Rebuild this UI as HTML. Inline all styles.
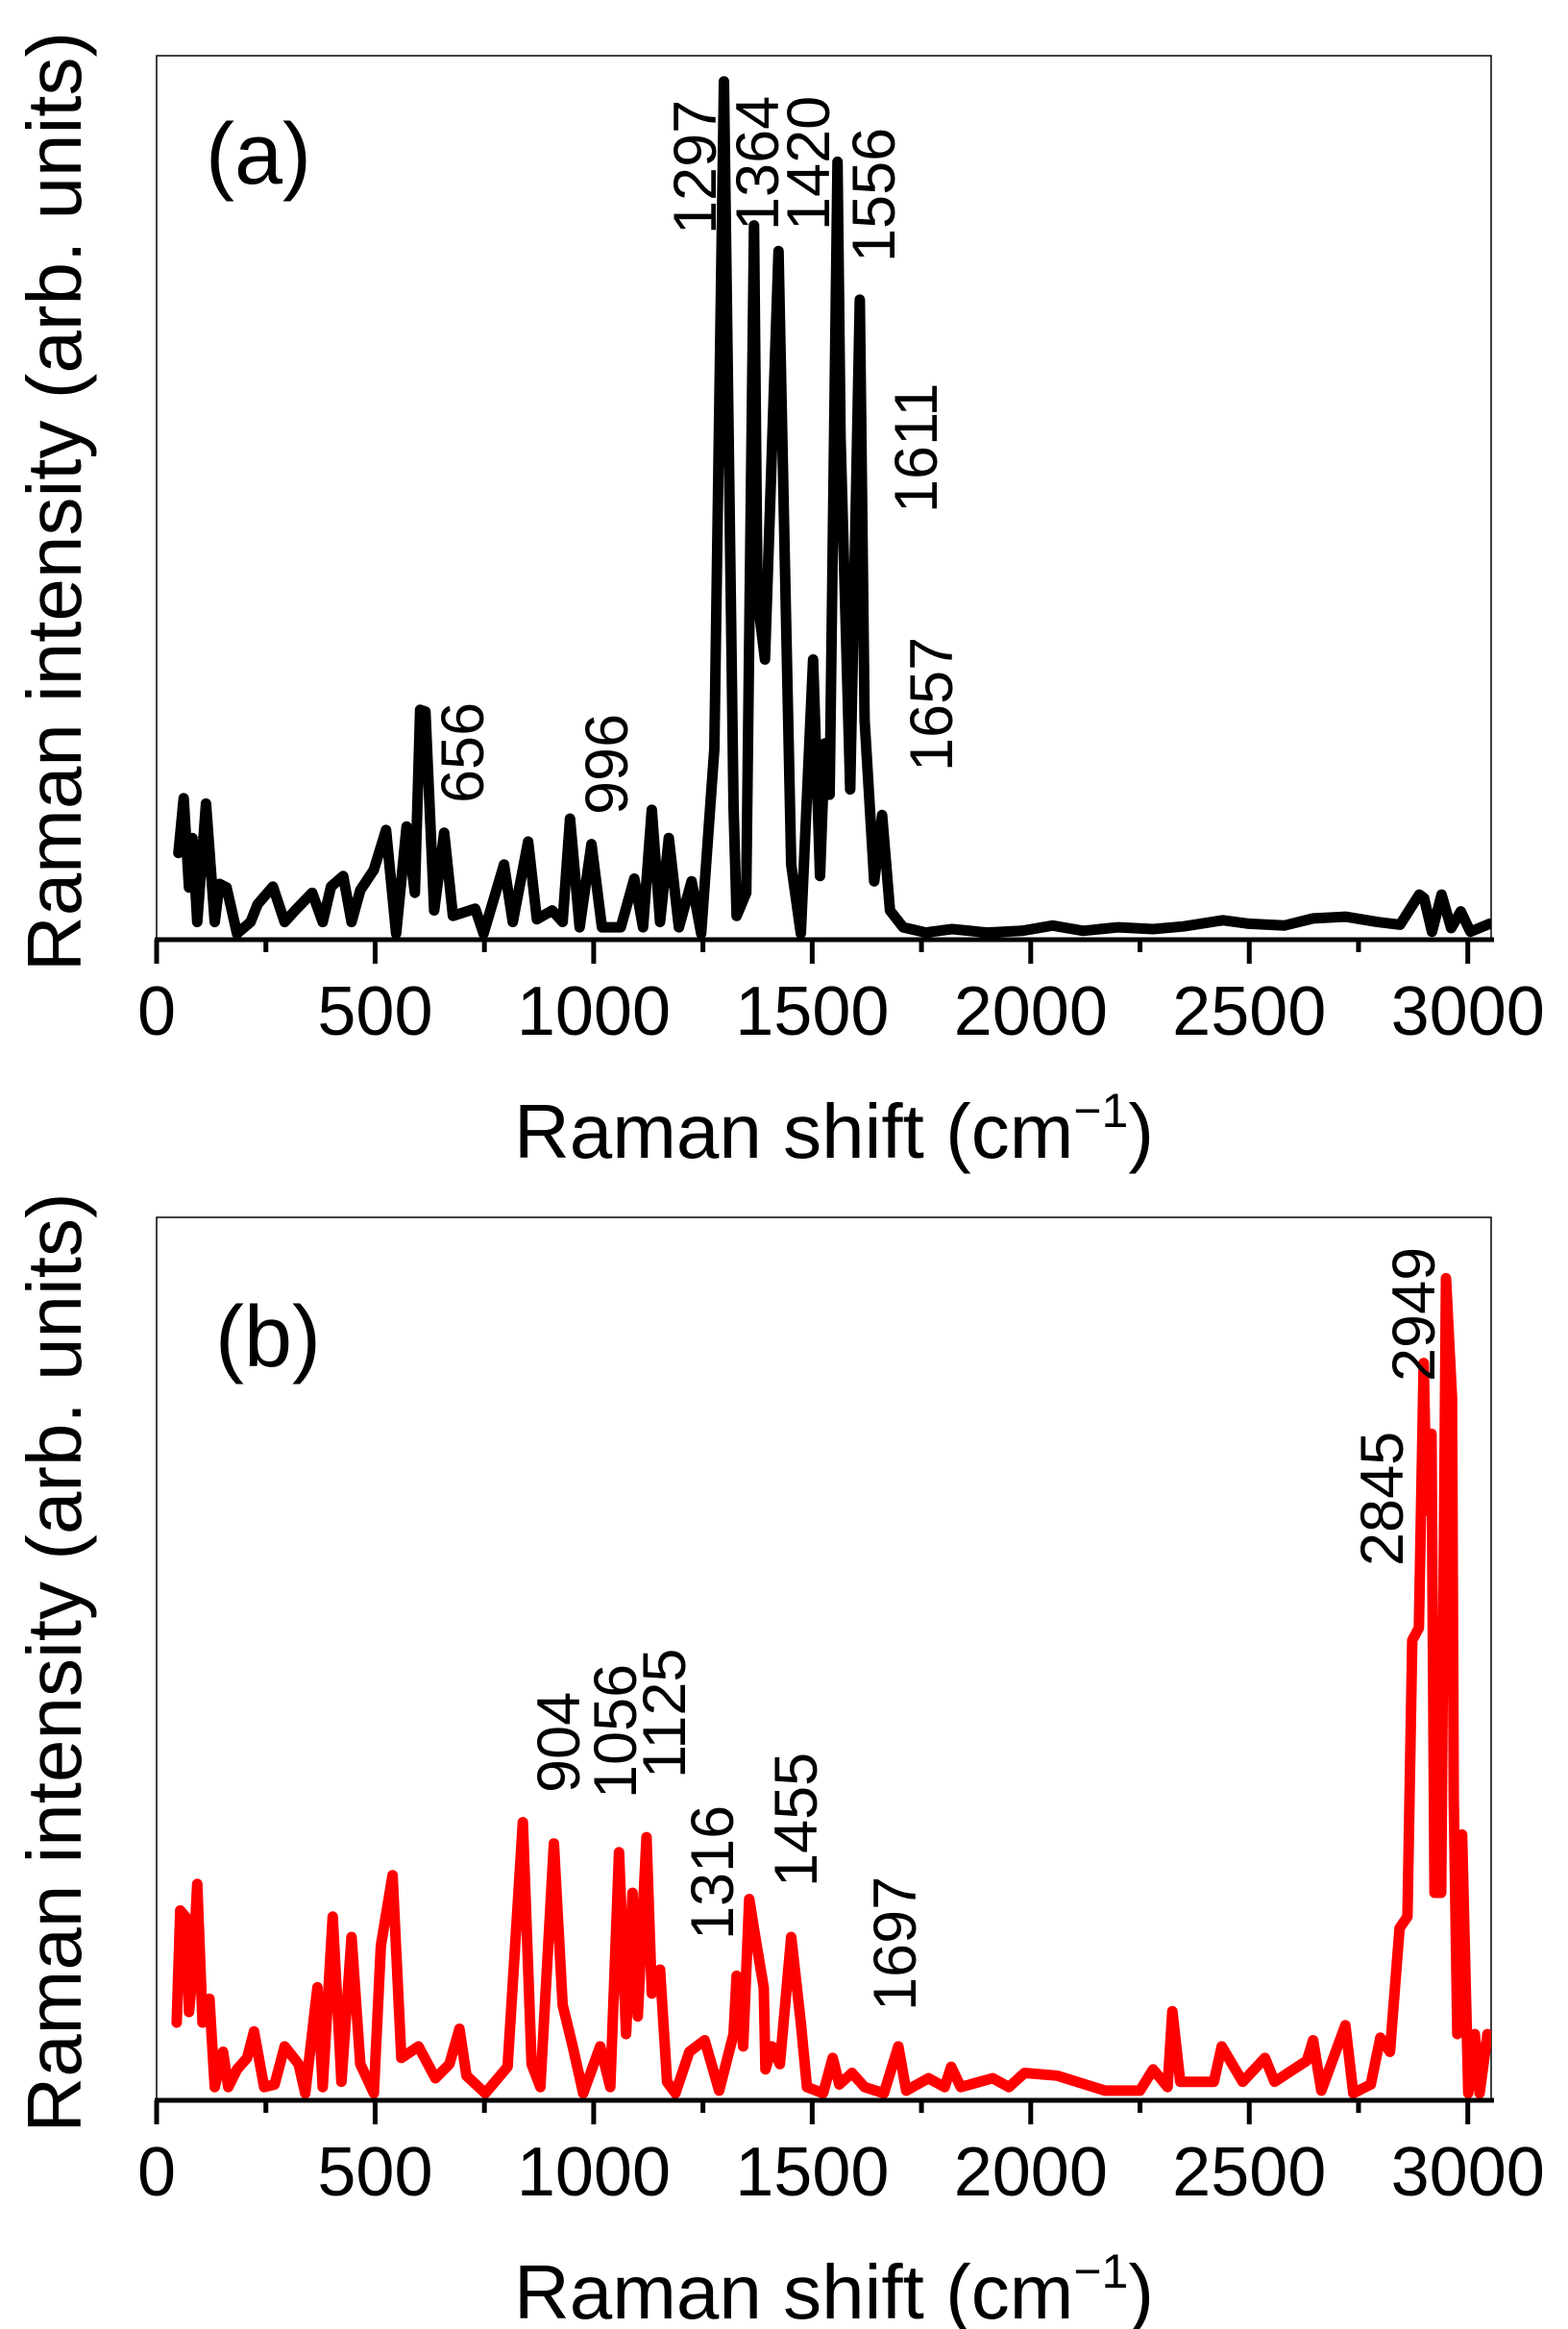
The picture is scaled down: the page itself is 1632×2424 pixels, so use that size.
<!DOCTYPE html>
<html>
<head>
<meta charset="utf-8">
<style>
  html, body { margin: 0; padding: 0; background: #fff; }
  svg { display: block; font-family: "Liberation Sans", Arial, sans-serif; }
</style>
</head>
<body>
<svg id="fig" width="1632" height="2424" viewBox="0 0 1632 2424" xmlns="http://www.w3.org/2000/svg">
  <defs>
    <clipPath id="clipA"><rect x="163" y="58" width="1389" height="924"/></clipPath>
    <clipPath id="clipB"><rect x="163" y="1267" width="1389" height="923"/></clipPath>
  </defs>
  <g id="panelA"></g>
  <g id="panelB"></g>
</svg>
<script>
// ---- data (Raman shift cm^-1, intensity % of plot height) ----
const xTicks = [0, 500, 1000, 1500, 2000, 2500, 3000];
const minorTicks = [250, 750, 1250, 1750, 2250, 2750];

const shiftA = [50,62,74,82,93,113,133,144,160,184,215,231,266,293,317,356,380,399,427,446,466,497,525,548,572,591,603,615,635,658,678,729,748,795,815,850,870,905,929,946,968,995,1019,1062,1093,1113,1133,1152,1172,1195,1224,1246,1276,1298,1320,1327,1349,1367,1375,1392,1423,1437,1452,1474,1502,1518,1529,1540,1558,1565,1587,1609,1620,1642,1660,1678,1708,1760,1820,1900,1980,2050,2120,2200,2280,2350,2440,2499,2580,2646,2720,2793,2845,2889,2900,2918,2940,2962,2984,3006,3050];
const intensityA = [9.8,16,5.9,11.5,2,15.4,2,6.3,5.9,0.7,2,4,6,2,3.3,5.3,2,6,7.2,2,5.6,7.9,12.4,0.7,12.8,5.3,26,25.8,3.3,12.1,2.7,3.5,0.7,8.5,2,11.1,2.3,3.3,2,13.7,1.4,10.8,1.4,1.4,6.9,1.4,14.7,2,11.5,1.4,6.6,0.7,21.6,97.1,15,2.7,5.3,80.8,38.5,31.7,77.9,43.7,8.5,0.7,31.7,7.2,22.2,16.4,88,56.7,17,72.4,24.8,6.6,14.1,3.3,1.4,0.8,1.2,0.8,1.0,1.6,1.0,1.4,1.2,1.5,2.2,1.8,1.6,2.4,2.6,2.0,1.7,5.1,4.7,0.9,5.1,1.3,3.2,0.9,1.8];

const shiftB = [46,54,66,74,83,93,105,121,133,152,164,184,207,223,246,270,293,325,340,368,380,403,423,446,466,497,513,540,560,599,638,670,693,709,752,803,838,858,878,909,929,952,976,1015,1038,1058,1074,1089,1101,1121,1133,1152,1168,1187,1219,1254,1287,1320,1327,1342,1356,1371,1389,1393,1408,1426,1452,1474,1488,1525,1547,1562,1591,1620,1664,1697,1715,1766,1803,1818,1840,1913,1950,1986,2060,2170,2250,2280,2313,2324,2342,2419,2437,2485,2536,2558,2632,2646,2665,2720,2738,2778,2800,2822,2844,2862,2873,2888,2899,2906,2917,2924,2939,2950,2964,2968,2976,2987,3001,3016,3027,3045];
const intensityB = [8.8,21.5,20.8,10,14.8,24.5,8.8,11.5,1.5,5.5,1.5,3.5,4.8,7.8,1.5,1.8,6.1,4.1,0.8,12.8,1.5,20.8,2.1,18.5,4.1,0.8,17.5,25.5,4.8,6.1,2.5,4.1,8.1,2.8,0.8,3.8,31.5,4.1,1.5,29.1,10.8,6.1,0.8,6.1,1.5,28.1,7.5,23.5,9.5,29.8,12.1,14.8,2.1,0.8,5.5,6.8,1.1,7.5,14.1,6.1,22.8,18.1,12.8,3.5,6.1,4.1,18.5,8.8,1.5,0.8,4.8,1.8,3.1,1.5,0.8,6.1,1.1,2.5,1.5,3.8,1.5,2.5,1.5,3.1,2.8,1.1,1.1,3.5,1.5,10.1,2.1,2.1,6.1,2.1,4.8,2.1,4.5,6.8,1.1,8.5,0.8,1.8,7.1,5.5,19.5,20.8,52.1,53.5,83.5,66.8,75.5,23.5,23.5,93.1,79.5,34.1,7.5,30.1,0.8,7.5,0.8,7.5];

const labelsA = ["656","996","1297","1364","1420","1556","1611","1657"];
const labelsB = ["904","1056","1125","1316","1455","1697","2845","2949"];
// ---- layout ----
const NS = "http://www.w3.org/2000/svg";
const X0 = 163, XS = 0.4549, XR = 1552;
const labelPosA = [[503,836],[653,848],[745,244],[810,240],[863,240],[931,273],[975,534],[991,803]];
const labelPosB = [[603,1866],[662,1872],[713,1851],[763,2019],[850,1964],[953,2093],[1460,1630],[1493,1438]];

function xPix(v) { return X0 + v * XS; }
function mk(tag, attrs, parent) {
  const el = document.createElementNS(NS, tag);
  for (const k in attrs) el.setAttribute(k, attrs[k]);
  parent.appendChild(el);
  return el;
}

function drawPanel(g, top, base, xs, ys, color, clipId, tag, labels, labelPos, tagY) {
  const H = base - top;
  const yPix = v => base - v / 100 * H;
  const frame = mk('rect', {x: X0, y: top, width: XR - X0, height: H, fill: 'none', stroke: '#000', 'stroke-width': 1.5}, g);
  
  
  let d = '';
  xs.forEach((x, i) => { d += (i ? 'L' : 'M') + xPix(x).toFixed(1) + ',' + yPix(ys[i]).toFixed(1); });
  const line = mk('path', {d: d, fill: 'none', stroke: color, 'stroke-width': 11, 'stroke-linejoin': 'round', 'stroke-linecap': 'round', 'clip-path': 'url(#' + clipId + ')'}, g);
  
  
  const ax = mk('line', {x1: X0 - 2, y1: base, x2: XR + 3, y2: base, stroke: '#000', 'stroke-width': 5}, g);
  
  
  xTicks.forEach(t => {
    const tk = mk('line', {x1: xPix(t), y1: base, x2: xPix(t), y2: base + 25, stroke: '#000', 'stroke-width': 5}, g);
    
    
    const tl = mk('text', {x: xPix(t), y: base + 99, 'font-size': 72, 'text-anchor': 'middle', fill: '#000'}, g);
    tl.textContent = String(t);
    
    
  });
  minorTicks.forEach(t => {
    const tk = mk('line', {x1: xPix(t), y1: base, x2: xPix(t), y2: base + 13, stroke: '#000', 'stroke-width': 5}, g);
    
    
  });
  const xt = mk('text', {x: 868, y: base + 227, 'font-size': 80, 'text-anchor': 'middle', fill: '#000'}, g);
  
  
  xt.appendChild(document.createTextNode('Raman shift (cm'));
  const sup = mk('tspan', {'font-size': 50, dy: -32}, xt);
  sup.textContent = '\u22121';
  const cl = mk('tspan', {dy: 32}, xt);
  cl.textContent = ')';
  const cy = (top + base) / 2 + 4;
  const yt = mk('text', {x: 0, y: 0, 'font-size': 80, 'text-anchor': 'middle', fill: '#000', transform: 'translate(84,' + cy + ') rotate(-90)'}, g);
  yt.textContent = 'Raman intensity (arb. units)';
  
  
  const pt = mk('text', {x: tag === '(a)' ? 214 : 224, y: tagY, 'font-size': 90, fill: '#000'}, g);
  pt.textContent = tag;
  
  
  labels.forEach((s, i) => {
    const p = labelPos[i];
    const t = mk('text', {x: 0, y: 0, 'font-size': 63, fill: '#000', transform: 'translate(' + p[0] + ',' + p[1] + ') rotate(-90)'}, g);
    t.textContent = s;
    
    
  });
}

drawPanel(document.getElementById('panelA'), 58, 978, shiftA, intensityA, '#000', 'clipA', '(a)', labelsA, labelPosA, 191);
drawPanel(document.getElementById('panelB'), 1267, 2186, shiftB, intensityB, '#ff0000', 'clipB', '(b)', labelsB, labelPosB, 1422);
</script>
</body>
</html>
